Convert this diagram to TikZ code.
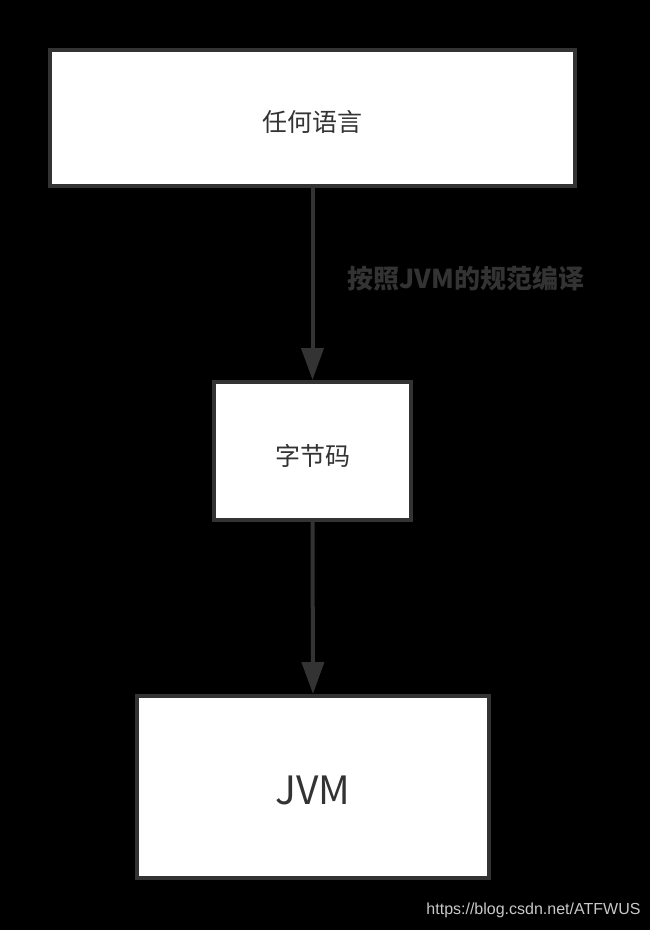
\documentclass[tikz,border=0pt]{standalone}
\usepackage{fontspec}
\setmainfont{Liberation Sans}
\newfontfamily\cjk{Noto Sans CJK SC}
\usetikzlibrary{arrows.meta}
\definecolor{boxline}{HTML}{333333}
\definecolor{marktext}{HTML}{C8C8C8}
\tikzstyle{stagebox}=[draw=boxline, line width=4pt, fill=white, text=boxline, inner sep=0pt]
\tikzstyle{flow}=[draw=boxline, line width=4pt, -{Triangle[length=32pt,width=22pt]}]

\begin{document}
\begin{tikzpicture}[x=1pt, y=-1pt]
	\fill[black] (0,0) rectangle (650,930);
	\useasboundingbox (0,0) rectangle (650,930);
	\node[stagebox, minimum width=525pt, minimum height=136pt] (lang) at (312.5,118) {};
	\node[stagebox, minimum width=197pt, minimum height=138pt] (bytecode) at (312.5,451) {};
	\node[stagebox, minimum width=352pt, minimum height=182pt] (jvm) at (313,787) {};
	\node[text=boxline] (langtext) at (312.5,122) {\cjk\fontsize{25}{30}\selectfont 任何语言};
	\node[text=boxline] (bytecodetext) at (312.5,456) {\cjk\fontsize{25}{30}\selectfont 字节码};
	\node[text=boxline] (jvmtext) at (313,790) {\cjk\fontsize{39}{46}\selectfont JVM};
	\draw[flow] (lang.south) -- (bytecode.north);
	\draw[flow] (bytecode.south) -- (jvm.north);
	\node[text=boxline] (compile) at (466,279) {\cjk\bfseries\fontsize{26}{31}\selectfont 按照JVM的规范编译};
	\node[text=marktext, anchor=east] (mark) at (644,910) {\fontsize{16}{19}\selectfont https://blog.csdn.net/ATFWUS};
\end{tikzpicture}
\end{document}
